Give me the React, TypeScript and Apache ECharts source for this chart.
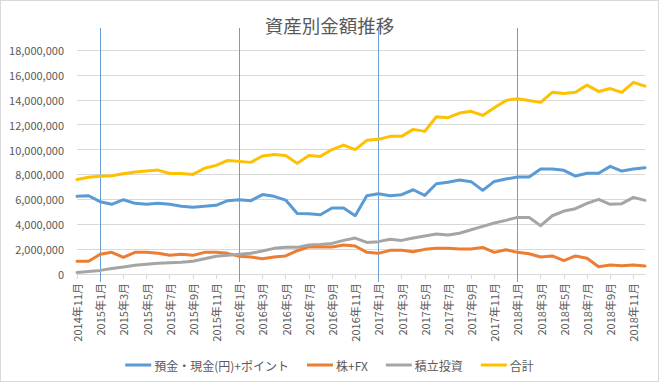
import React, { useEffect, useRef } from "react";
import * as echarts from "echarts";

const months: string[] = [
  "2014年11月", "2014年12月",
  "2015年1月", "2015年2月", "2015年3月", "2015年4月", "2015年5月", "2015年6月",
  "2015年7月", "2015年8月", "2015年9月", "2015年10月", "2015年11月", "2015年12月",
  "2016年1月", "2016年2月", "2016年3月", "2016年4月", "2016年5月", "2016年6月",
  "2016年7月", "2016年8月", "2016年9月", "2016年10月", "2016年11月", "2016年12月",
  "2017年1月", "2017年2月", "2017年3月", "2017年4月", "2017年5月", "2017年6月",
  "2017年7月", "2017年8月", "2017年9月", "2017年10月", "2017年11月", "2017年12月",
  "2018年1月", "2018年2月", "2018年3月", "2018年4月", "2018年5月", "2018年6月",
  "2018年7月", "2018年8月", "2018年9月", "2018年10月", "2018年11月", "2018年12月",
];

const deposits: number[] = [
  6240000, 6290000, 5810000, 5600000, 5970000, 5680000, 5600000, 5680000, 5600000, 5440000,
  5360000, 5440000, 5520000, 5890000, 5970000, 5890000, 6380000, 6240000, 5940000, 4870000,
  4850000, 4760000, 5300000, 5300000, 4680000, 6290000, 6450000, 6290000, 6370000, 6770000,
  6320000, 7250000, 7370000, 7550000, 7420000, 6720000, 7440000, 7630000, 7790000, 7790000,
  8430000, 8430000, 8330000, 7870000, 8090000, 8090000, 8650000, 8270000, 8430000, 8540000,
];

const stocksFx: number[] = [
  1020000, 1020000, 1580000, 1740000, 1340000, 1740000, 1740000, 1660000, 1500000, 1580000,
  1500000, 1740000, 1740000, 1660000, 1420000, 1370000, 1220000, 1370000, 1450000, 1870000,
  2190000, 2170000, 2170000, 2330000, 2250000, 1740000, 1660000, 1900000, 1900000, 1790000,
  1980000, 2060000, 2070000, 2010000, 2010000, 2140000, 1740000, 1950000, 1740000, 1630000,
  1370000, 1450000, 1070000, 1450000, 1260000, 590000, 720000, 670000, 720000, 640000,
];

const savingsInvest: number[] = [
  130000, 210000, 290000, 450000, 560000, 700000, 780000, 860000, 910000, 940000,
  1020000, 1230000, 1420000, 1500000, 1580000, 1660000, 1850000, 2060000, 2140000, 2140000,
  2330000, 2380000, 2460000, 2700000, 2890000, 2540000, 2600000, 2790000, 2700000, 2890000,
  3050000, 3210000, 3130000, 3270000, 3560000, 3830000, 4100000, 4310000, 4550000, 4550000,
  3880000, 4680000, 5060000, 5250000, 5680000, 6000000, 5600000, 5650000, 6160000, 5920000,
];

const total: number[] = [
  7600000, 7770000, 7850000, 7900000, 8050000, 8200000, 8270000, 8350000, 8080000, 8080000,
  8000000, 8500000, 8730000, 9130000, 9050000, 8970000, 9480000, 9600000, 9530000, 8890000,
  9530000, 9450000, 10000000, 10360000, 10000000, 10740000, 10820000, 11060000, 11060000, 11620000,
  11460000, 12640000, 12560000, 12930000, 13070000, 12740000, 13360000, 13950000, 14080000, 13950000,
  13790000, 14600000, 14510000, 14600000, 15180000, 14670000, 14900000, 14600000, 15400000, 15100000,
];

const seriesNames: string[] = ["預金・現金(円)+ポイント", "株+FX", "積立投資", "合計"];
const yearMarks: string[] = ["2015年1月", "2016年1月", "2017年1月", "2018年1月"];

const FONT = '"Noto Sans CJK JP", "Noto Sans", sans-serif';
const TEXT = "#595959";
const GRID = "#d9d9d9";

export default function App() {
  const ref = useRef<HTMLDivElement>(null);

  useEffect(() => {
    document.body.style.margin = "0";
    if (!ref.current) return;
    const chart = echarts.init(ref.current, undefined, { renderer: "svg" });
    const colors = ["#5b9bd5", "#ed7d31", "#a5a5a5", "#ffc000"];
    const datasets = [deposits, stocksFx, savingsInvest, total];
    chart.setOption({
      animation: false,
      textStyle: { fontFamily: FONT },
      title: {
        text: "資産別金額推移",
        left: "center",
        top: 11,
        textStyle: { fontFamily: FONT, fontSize: 18.5, fontWeight: "normal", color: TEXT },
      },
      grid: { left: 77, right: 14, top: 50, bottom: 108, containLabel: false },
      legend: {
        data: seriesNames,
        left: "center",
        top: 354,
        itemGap: 18,
        itemWidth: 26,
        itemHeight: 3,
        icon: "rect",
        textStyle: { fontFamily: FONT, fontSize: 12, color: TEXT, padding: [0, 0, 0, -2] },
      },
      xAxis: {
        type: "category",
        data: months,
        boundaryGap: false,
        axisLine: { lineStyle: { color: GRID, width: 1 } },
        axisTick: { show: true, interval: 1, length: 5, lineStyle: { color: GRID } },
        axisLabel: {
          interval: 1,
          rotate: 90,
          margin: 9,
          fontFamily: FONT,
          fontSize: 11,
          color: TEXT,
        },
        splitLine: { show: false },
      },
      yAxis: {
        type: "value",
        min: 0,
        max: 18000000,
        interval: 2000000,
        axisLine: { show: false },
        axisTick: { show: false },
        axisLabel: {
          margin: 13,
          fontFamily: FONT,
          fontSize: 11,
          color: TEXT,
          formatter: (v: number) => v.toLocaleString("en-US"),
        },
        splitLine: { lineStyle: { color: GRID, width: 1 } },
      },
      series: seriesNames.map((name, i) => ({
        name,
        type: "line",
        data: datasets[i],
        symbol: "none",
        showSymbol: false,
        lineStyle: { color: colors[i], width: 3, cap: "round", join: "round" },
        itemStyle: { color: colors[i] },
        z: 2 + i,
      })),
    });

    const marks = yearMarks.map((m) => {
      const x = chart.convertToPixel({ xAxisIndex: 0 }, m) as number;
      const xr = Math.round(x) + 0.5;
      return {
        type: "line",
        shape: { x1: xr, y1: 28, x2: xr, y2: 282 },
        style: { stroke: "#6a9fd4", lineWidth: 1 },
        z: 1,
        silent: true,
      };
    });
    chart.setOption({ graphic: marks });

    return () => chart.dispose();
  }, []);

  return (
    <div
      style={{
        position: "relative",
        width: 659,
        height: 382,
        boxSizing: "border-box",
        border: "1px solid #d9d9d9",
        background: "#fff",
      }}
    >
      <div ref={ref} style={{ position: "absolute", left: -1, top: -1, width: 659, height: 382 }} />
    </div>
  );
}
